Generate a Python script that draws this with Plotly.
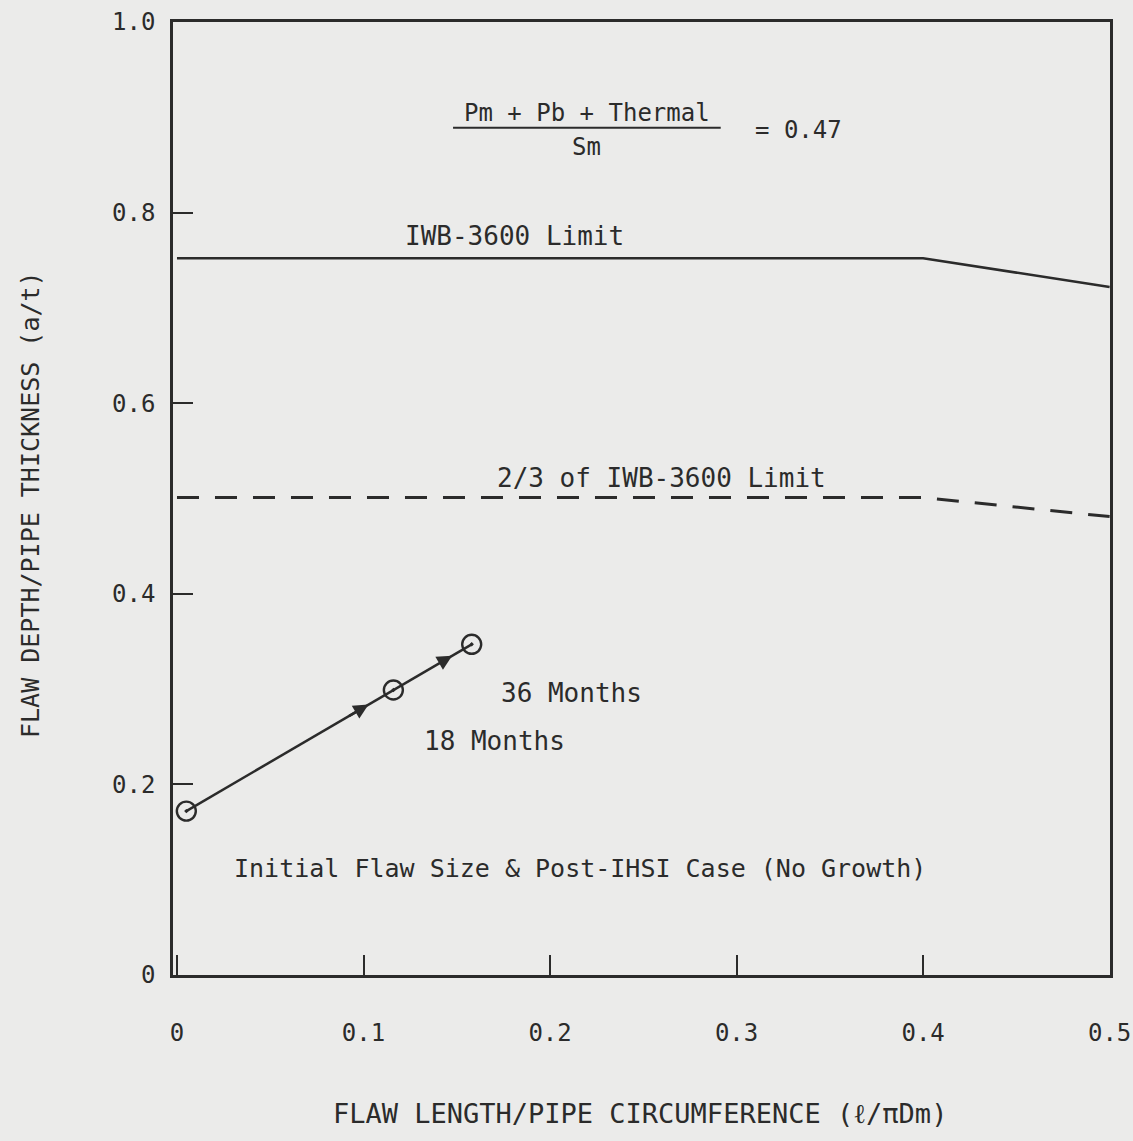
import plotly.graph_objects as go

# ---- data ----
x_ticks = [0, 0.1, 0.2, 0.3, 0.4, 0.5]
x_tick_labels = ["0", "0.1", "0.2", "0.3", "0.4", "0.5"]
y_ticks = [0, 0.2, 0.4, 0.6, 0.8, 1.0]
y_tick_labels = ["0", "0.2", "0.4", "0.6", "0.8", "1.0"]

limit_x = [0.0, 0.4, 0.5]
limit_y = [0.752, 0.752, 0.722]          # IWB-3600 Limit
two_thirds_x = [0.0, 0.4, 0.5]
two_thirds_y = [0.501, 0.501, 0.481]     # 2/3 of IWB-3600 Limit

growth_x = [0.005, 0.116, 0.158]         # initial, 18 months, 36 months
growth_y = [0.172, 0.299, 0.347]

INK = "#2b2b2b"
BG = "#ebebea"
FONT = "DejaVu Sans Mono"

L, R, T, B = 173, 23, 22, 166
PW, PH = 1133 - L - R, 1141 - T - B

fig = go.Figure()

fig.add_trace(go.Scatter(x=limit_x, y=limit_y, mode="lines",
                         line=dict(color=INK, width=2.5), hoverinfo="skip"))
fig.add_trace(go.Scatter(x=two_thirds_x, y=two_thirds_y, mode="lines",
                         line=dict(color=INK, width=3, dash="22px,16px"), hoverinfo="skip"))
fig.add_trace(go.Scatter(x=growth_x, y=growth_y, mode="lines+markers",
                         line=dict(color=INK, width=2.5),
                         marker=dict(symbol="circle-open-dot", size=19, color=INK,
                                     line=dict(width=2.4, color=INK)),
                         hoverinfo="skip"))

annotations = []
# arrowheads along the growth segments
for i, frac in [(0, 0.88), (1, 0.75)]:
    x0, y0 = growth_x[i], growth_y[i]
    x1, y1 = growth_x[i + 1], growth_y[i + 1]
    tx, ty = x0 + frac * (x1 - x0), y0 + frac * (y1 - y0)
    bx, by = x0 + (frac - 0.1) * (x1 - x0), y0 + (frac - 0.1) * (y1 - y0)
    annotations.append(dict(x=tx, y=ty, ax=bx, ay=by, xref="x", yref="y",
                            axref="x", ayref="y", text="", showarrow=True,
                            arrowhead=2, arrowsize=1.2, arrowwidth=2.5,
                            arrowcolor=INK, standoff=0, startstandoff=0))

def label(text, x, y, size=25, **kw):
    d = dict(x=x, y=y, xref="x", yref="y", text=text, showarrow=False,
             font=dict(family=FONT, size=size, color=INK))
    d.update(kw)
    annotations.append(d)

label("Pm + Pb + Thermal", 0.2197, 0.905, size=24)
label("Sm", 0.2197, 0.869, size=24)
label("= 0.47", 0.333, 0.887, size=24)
label("IWB-3600 Limit", 0.181, 0.775, size=26)
label("2/3 of IWB-3600 Limit", 0.260, 0.521, size=26)
label("36 Months", 0.2117, 0.296, size=26)
label("18 Months", 0.170, 0.2455, size=26)
label("Initial Flaw Size &amp; Post-IHSI Case (No Growth)", 0.216, 0.112, size=25)

# axis titles
annotations.append(dict(x=(640 - L) / PW, y=-(1113 - 975) / PH, xref="paper", yref="paper",
                        text="FLAW LENGTH/PIPE CIRCUMFERENCE (ℓ/πDm)", showarrow=False,
                        font=dict(family=FONT, size=27, color=INK), yanchor="middle"))
annotations.append(dict(x=-(L - 30) / PW, y=(975 - 505) / PH, xref="paper", yref="paper",
                        text="FLAW DEPTH/PIPE THICKNESS (a/t)", showarrow=False, textangle=-90,
                        font=dict(family=FONT, size=25, color=INK), xanchor="center"))

shapes = [dict(type="line", xref="x", yref="y", x0=0.148, x1=0.2915, y0=0.889, y1=0.889,
               line=dict(color=INK, width=2))]

fig.update_layout(
    width=1133, height=1141,
    margin=dict(l=L, r=R, t=T, b=B),
    paper_bgcolor=BG, plot_bgcolor=BG,
    showlegend=False,
    annotations=annotations,
    shapes=shapes,
    xaxis=dict(range=[-0.00214, 0.5002], tickvals=x_ticks, ticktext=x_tick_labels,
               ticks="inside", ticklen=20, tickwidth=2, tickcolor=INK,
               showline=True, linecolor=INK, linewidth=2.5, mirror=True,
               showgrid=False, zeroline=False, ticklabelstandoff=34,
               ticklabeloverflow="allow", automargin=False,
               tickfont=dict(family=FONT, size=24, color=INK)),
    yaxis=dict(range=[0, 1.0], tickvals=y_ticks, ticktext=y_tick_labels,
               ticks="inside", ticklen=20, tickwidth=2, tickcolor=INK,
               showline=True, linecolor=INK, linewidth=2.5, mirror=True,
               showgrid=False, zeroline=False, ticklabelstandoff=10,
               ticklabeloverflow="allow", automargin=False,
               tickfont=dict(family=FONT, size=24, color=INK)),
)

fig.write_html("out.html", config={"displayModeBar": False},
               post_script="document.body.style.margin='0';document.body.style.overflow='hidden';")
